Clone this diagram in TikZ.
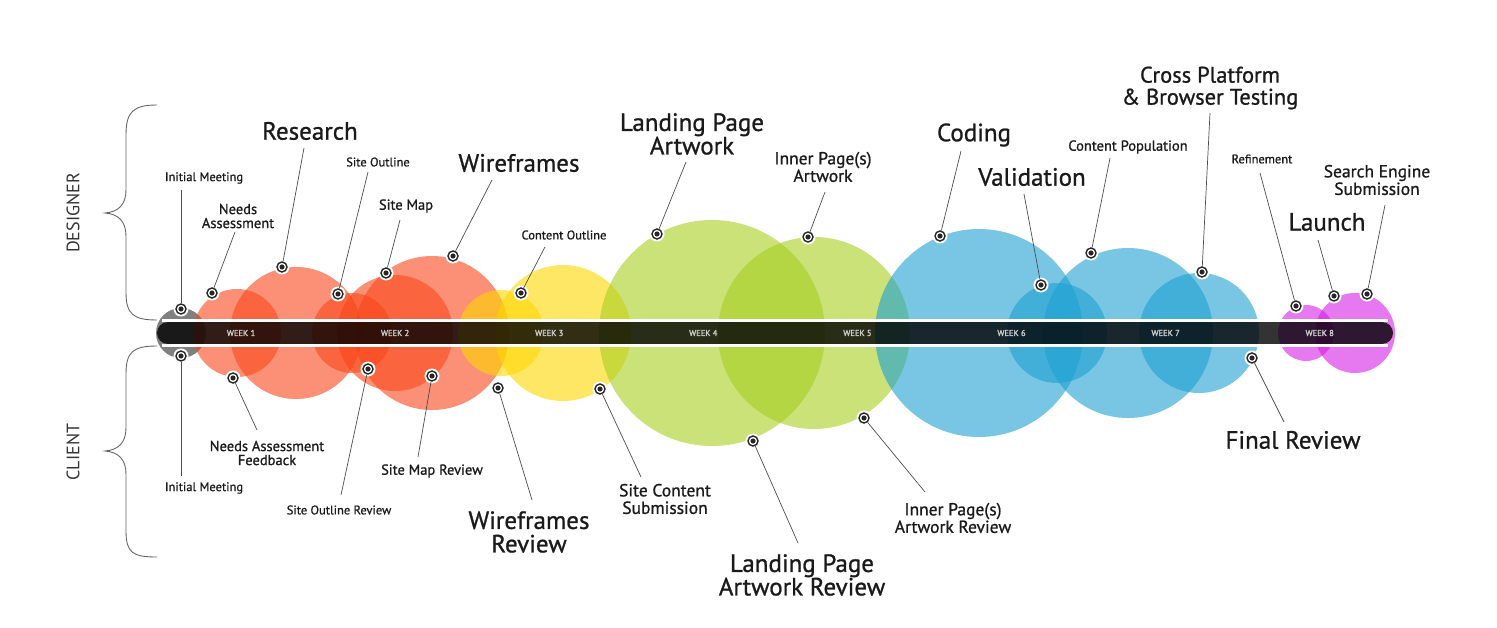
\documentclass[tikz,border=0pt]{standalone}
\usepackage{fontspec}
\setmainfont{PT Sans}[BoldFont=PT Sans, BoldFeatures={FakeBold=0.9}]
\newfontfamily\weekfont{PT Sans}[BoldFont=PT Sans, BoldFeatures={FakeBold=2.2}]
\usetikzlibrary{calc}
\definecolor{colOR}{RGB}{249,70,26}
\definecolor{colYE}{RGB}{255,215,0}
\definecolor{colGR}{RGB}{166,206,30}
\definecolor{colBL}{RGB}{30,160,210}
\definecolor{colMG}{RGB}{214,30,230}
\definecolor{colTXT}{RGB}{26,26,26}

\begin{document}
\begin{tikzpicture}[x=1pt, y=-1pt,
    big/.style={font=\fontsize{25}{23.5}\selectfont\bfseries},
    bigs/.style={font=\fontsize{22.5}{22}\selectfont\bfseries},
    mid/.style={font=\fontsize{17.5}{17.5}\selectfont\bfseries},
    sml/.style={font=\fontsize{14.5}{14}\selectfont\bfseries},
    tiny/.style={font=\fontsize{12.5}{13}\selectfont\bfseries},
    lab/.style={text=colTXT, align=center, inner sep=0pt},
    dot/.style={circle, draw=black!85, line width=1.4pt, fill=white, minimum size=10pt, inner sep=0pt},
    leader/.style={draw=black!70, line width=0.7pt},
    bubble/.style={fill=#1, fill opacity=0.6},
    brace/.style={draw=black!60, line width=0.9pt},
    side/.style={font=\fontsize{18}{18}\selectfont, text=black!80, rotate=90},
    week/.style={font=\weekfont\fontsize{8.5}{8.5}\selectfont\bfseries, text=black!20}]
  \useasboundingbox (0,0) rectangle (1497,628);
  % Start marker and weekly bubbles
  \fill[black!50] (181,333) circle (25);
  \foreach \cx/\r/\c in {237/44/colOR, 296/66/colOR, 352/40/colOR, 395/58/colOR, 432/77/colOR,
      501/43/colYE, 563/68/colYE, 712/113/colGR, 814/96/colGR,
      979/104/colBL, 1057/50/colBL, 1128/85/colBL, 1199/60/colBL,
      1306/28/colMG, 1355/40/colMG}
    \fill[bubble=\c] (\cx,333) circle (\r);
  % Timeline bar
  \fill[black, fill opacity=0.8, rounded corners=11pt] (157,322) rectangle (1393,344);
  \draw[white, line width=2.5pt] (162,320.5) -- (1388,320.5);
  \draw[white, line width=2.5pt] (162,345.5) -- (1388,345.5);
  \foreach \i in {1,...,8}
    \node[week] (w\i) at ({241+154.1*(\i-1)},333) {WEEK \i};
  % Side braces
  \draw[brace] (157,105) .. controls (133,105) and (126,112) .. (126,135) -- (126,190)
    .. controls (126,205) and (118,212) .. (105,213) .. controls (118,214) and (126,221) .. (126,236)
    -- (126,292) .. controls (126,314) and (133,320) .. (157,320);
  \draw[brace] (157,346) .. controls (133,346) and (126,352) .. (126,374) -- (126,428)
    .. controls (126,443) and (118,450) .. (105,451) .. controls (118,452) and (126,459) .. (126,474)
    -- (126,531) .. controls (126,553) and (133,557) .. (157,557);
  \node[side] (designer) at (73,213) {DESIGNER};
  \node[side] (client) at (73,452) {CLIENT};
  % Milestones: name/style/label x,y/dot x,y/line end x,y/text
  \foreach \n/\sty/\lx/\ly/\ox/\oy/\ex/\ey/\txt in {
      InitD/tiny/204/178/181/309/181/190/{Initial Meeting},
      Needs/sml/238/216/212/293/235/232/{Needs\\Assessment},
      Research/big/310/131/282/267/304/148/{Research},
      SiteOut/tiny/378/162/338/294/368/172/{Site Outline},
      SiteMap/sml/406/206/386/273/400/220/{Site Map},
      Wire/big/519/163/453/256/492/180/{Wireframes},
      ContOut/tiny/564/235/521/293/545/247/{Content Outline},
      Landing/big/692/134/657/234/686/162/{Landing Page\\Artwork},
      InnerArt/mid/823/167/808/237/825/192/{Inner Page(s)\\Artwork},
      Coding/big/974/135/940/236/961/151/{Coding},
      Valid/big/1032/177/1041/285/1024/194/{Validation},
      ContPop/sml/1128/147/1091/253/1110/158/{Content Population},
      Cross/bigs/1210/88/1202/272/1210/113/{Cross Platform\\\& Browser Testing},
      Refine/tiny/1262/159/1296/306/1260/173/{Refinement},
      Launch/big/1327/222/1334/296/1318/240/{Launch},
      Search/mid/1377/180/1367/294/1385/205/{Search Engine\\Submission},
      InitC/tiny/204/488/181/356/181/476/{Initial Meeting},
      NeedsFb/sml/267/453/233/378/257/430/{Needs Assessment\\Feedback},
      SiteOutRev/tiny/339/510/368/369/341/495/{Site Outline Review},
      SiteMapRev/sml/432/471/432/376/418/457/{Site Map Review},
      WireRev/big/529/532/498/388/532/500/{Wireframes\\Review},
      SiteCont/mid/665/499/600/389/641/477/{Site Content\\Submission},
      LandRev/big/802/575/753/441/798/543/{Landing Page\\Artwork Review},
      InnerRev/mid/953/518/864/418/925/492/{Inner Page(s)\\Artwork Review},
      Final/big/1293/440/1252/358/1284/422/{Final Review}}{
    \node[lab,\sty] (l\n) at (\lx,\ly) {\txt};
    \coordinate (t\n) at (\ex,\ey);
    \fill[white] (\ox,\oy) circle (7.5);
    \node[dot] (d\n) at (\ox,\oy) {};
    \fill[black!85] (d\n.center) circle (2.6pt);
    \draw[leader] (d\n) -- (t\n);
  }
\end{tikzpicture}
\end{document}
